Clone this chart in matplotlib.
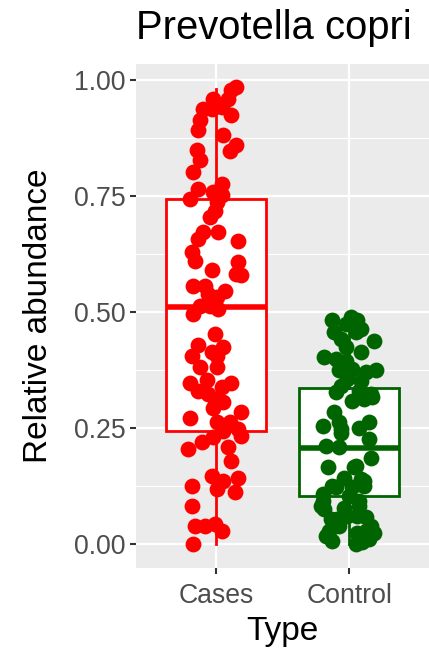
import numpy as np
import matplotlib.pyplot as plt

plt.rcParams['font.family'] = ['Liberation Sans', 'DejaVu Sans']

groups = ["Cases", "Control"]
colors = ["#FF0000", "#006400"]

# box summaries per group: whisker low, q1, median, q3, whisker high
box_low = [0.0, 0.0]
box_q1 = [0.244, 0.104]
box_med = [0.510, 0.207]
box_q3 = [0.743, 0.337]
box_high = [0.982, 0.489]

# relative abundance of each sample
cases_y = [0.986, 0.978, 0.960, 0.960, 0.939, 0.939, 0.942, 0.924, 0.914, 0.892,
           0.881, 0.860, 0.847, 0.849, 0.827, 0.802, 0.777, 0.766, 0.744, 0.759,
           0.752, 0.737, 0.719, 0.705, 0.672, 0.672, 0.658, 0.654, 0.629, 0.611,
           0.609, 0.590, 0.583, 0.579, 0.557, 0.557, 0.546, 0.539, 0.532, 0.514,
           0.514, 0.507, 0.496, 0.453, 0.428, 0.424, 0.413, 0.406, 0.406, 0.382,
           0.381, 0.348, 0.354, 0.348, 0.330, 0.338, 0.323, 0.313, 0.305, 0.294,
           0.271, 0.285, 0.262, 0.262, 0.248, 0.244, 0.233, 0.230, 0.219, 0.205,
           0.208, 0.179, 0.147, 0.143, 0.136, 0.125, 0.119, 0.111, 0.082, 0.039,
           0.039, 0.043, 0.028, 0.0]
# horizontal jitter of each sample (category units)
cases_jit = [0.154, 0.117, 0.092, -0.020, -0.095, -0.032, 0.043, 0.117, -0.119, -0.132,
             0.054, 0.154, 0.104, -0.144, -0.119, -0.169, 0.043, -0.132, -0.194, -0.020,
             0.043, 0.005, -0.007, -0.045, -0.095, 0.017, -0.132, 0.166, -0.181, -0.157,
             0.166, -0.032, 0.154, 0.192, -0.169, -0.082, 0.067, -0.057, 0.005, -0.119,
             -0.045, 0.017, -0.169, -0.007, -0.132, 0.054, -0.032, -0.181, 0.005, -0.119,
             0.005, -0.194, -0.069, 0.117, -0.132, 0.043, -0.057, -0.007, 0.054, -0.020,
             -0.194, 0.192, 0.005, 0.104, 0.166, 0.054, 0.192, -0.020, -0.107, -0.207,
             0.092, 0.117, -0.032, 0.166, 0.054, -0.181, 0.005, 0.142, -0.181, -0.157,
             -0.082, -0.007, 0.043, -0.169]

control_y = [0.482, 0.489, 0.482, 0.475, 0.464, 0.456, 0.456, 0.442, 0.438, 0.424,
             0.413, 0.402, 0.399, 0.395, 0.374, 0.377, 0.374, 0.370, 0.356, 0.352,
             0.341, 0.327, 0.330, 0.323, 0.309, 0.313, 0.284, 0.255, 0.262, 0.262,
             0.251, 0.248, 0.226, 0.212, 0.208, 0.186, 0.165, 0.165, 0.143, 0.140,
             0.122, 0.125, 0.107, 0.104, 0.082, 0.078, 0.082, 0.053, 0.060, 0.057,
             0.039, 0.039, 0.017, 0.024, 0.024, 0.006, 0.003, 0.0, 0.010, 0.122,
             0.125, 0.054, 0.060, 0.028, 0.076, 0.240, 0.168, 0.136, 0.093, 0.093,
             0.028, 0.316]
control_jit = [-0.125, 0.013, 0.062, -0.025, 0.087, -0.112, 0.050, -0.062, 0.187, -0.025,
               0.087, -0.187, -0.099, -0.025, -0.075, 0.025, 0.199, 0.125, -0.013, 0.087,
               -0.062, -0.099, 0.075, 0.162, 0.025, 0.112, -0.112, -0.199, -0.075, 0.149,
               0.075, -0.062, 0.149, -0.174, -0.075, 0.162, -0.162, 0.037, -0.037, 0.087,
               -0.099, 0.112, -0.199, 0.0, -0.211, -0.037, 0.075, -0.137, -0.013, 0.125,
               -0.075, 0.162, -0.174, 0.062, 0.187, -0.125, 0.099, 0.050, 0.149, 0.022,
               -0.125, -0.090, 0.060, -0.149, -0.187, -0.062, 0.050, 0.112, -0.199, 0.075,
               0.125, 0.172]

samples_y = [cases_y, control_y]
samples_jit = [cases_jit, control_jit]

fig = plt.figure(figsize=(4.29, 6.48), dpi=100)
ax = fig.add_axes([136 / 429, 80 / 648, 293 / 429, 504 / 648])
ax.set_facecolor("#EBEBEB")
for s in ax.spines.values():
    s.set_visible(False)

pos = np.arange(1, len(groups) + 1)
for i in range(len(groups)):
    st = [dict(whislo=box_low[i], q1=box_q1[i], med=box_med[i],
               q3=box_q3[i], whishi=box_high[i], fliers=[])]
    ax.bxp(st, positions=[pos[i]], widths=0.75, showcaps=False, patch_artist=True,
           boxprops=dict(facecolor="white", edgecolor=colors[i], linewidth=2.0),
           whiskerprops=dict(color=colors[i], linewidth=2.0),
           medianprops=dict(color=colors[i], linewidth=4.0),
           zorder=2)
    ax.scatter(pos[i] + np.array(samples_jit[i]), samples_y[i],
               s=130, color=colors[i], linewidths=0, zorder=3)

ax.set_xlim(0.4, 2.6)
ax.set_ylim(-0.052, 1.035)
ax.set_xticks(pos)
ax.set_xticklabels(groups)
ax.set_yticks([0, 0.25, 0.5, 0.75, 1.0])
ax.set_yticklabels(["0.00", "0.25", "0.50", "0.75", "1.00"])
ax.set_yticks([0.125, 0.375, 0.625, 0.875], minor=True)

ax.grid(True, which="major", color="white", linewidth=1.6, zorder=0)
ax.grid(True, which="minor", axis="y", color="white", linewidth=0.8, zorder=0)
ax.set_axisbelow(True)
ax.tick_params(which="major", length=4.5, width=1.5, color="#333333",
               labelcolor="#4D4D4D", labelsize=19.2, pad=3)
ax.tick_params(axis="x", pad=6)
ax.tick_params(which="minor", length=0)

ax.set_xlabel("Type", fontsize=24, labelpad=5)
ax.set_ylabel("Relative abundance", fontsize=24, labelpad=14)
ax.set_title("Prevotella copri", fontsize=28.8, loc="left", pad=18)

fig.savefig("out.png", dpi=100)
